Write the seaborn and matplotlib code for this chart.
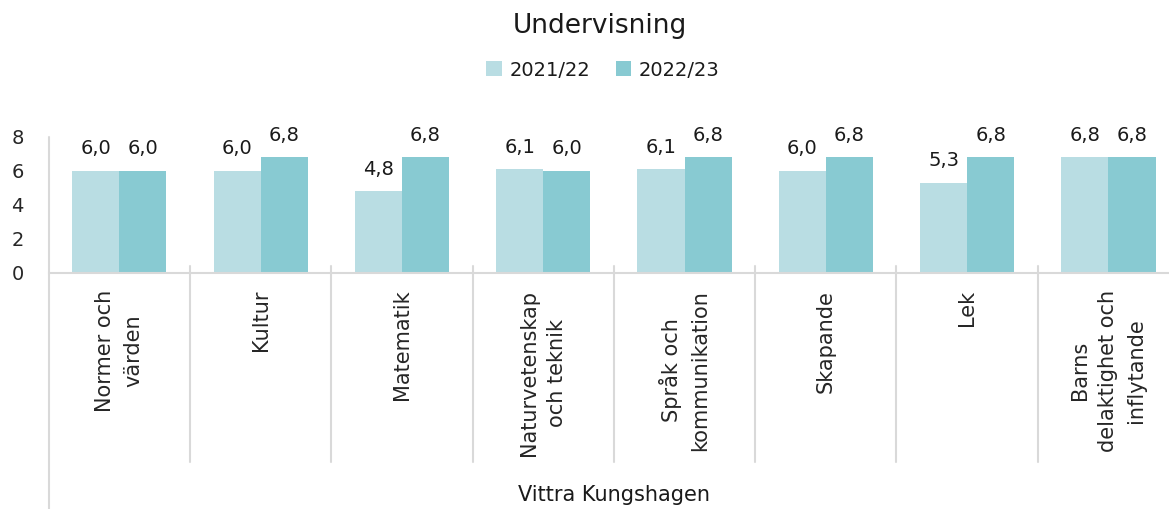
import numpy as np
import pandas as pd
import matplotlib
matplotlib.use('Agg')
import matplotlib.pyplot as plt
from matplotlib.patches import Patch
import seaborn as sns

# data
categories = ['Normer och\nvärden', 'Kultur', 'Matematik', 'Naturvetenskap\noch teknik',
              'Språk och\nkommunikation', 'Skapande', 'Lek', 'Barns\ndelaktighet och\ninflytande']
years = ['2021/22', '2022/23']
values_2122 = [6.0, 6.0, 4.8, 6.1, 6.1, 6.0, 5.3, 6.8]
values_2223 = [6.0, 6.8, 6.8, 6.0, 6.8, 6.8, 6.8, 6.8]
yticks = [0, 2, 4, 6, 8]
group_label = 'Vittra Kungshagen'
title = 'Undervisning'

colors = ['#B9DDE3', '#88CAD2']
grey = '#D9D9D9'

sns.set_style('white')
plt.rcParams['font.family'] = ['DejaVu Sans']
plt.rcParams['text.color'] = '#1a1a1a'

df = pd.DataFrame({
    'kategori': categories * 2,
    'år': [years[0]] * len(categories) + [years[1]] * len(categories),
    'värde': values_2122 + values_2223,
})

W, H = 1169, 509
fig = plt.figure(figsize=(W / 100, H / 100), dpi=100)
x0, x1 = 48.7, 48.7 + 8 * 141.3
y0, y8 = 273, 137
ax = fig.add_axes([x0 / W, 1 - y0 / H, (x1 - x0) / W, (y0 - y8) / H])

sns.barplot(data=df, x='kategori', y='värde', hue='år', palette=colors,
            width=0.667, saturation=1, ax=ax, legend=False, linewidth=0)

for cont in ax.containers:
    labs = [f'{b.get_height():.1f}'.replace('.', ',') for b in cont]
    ax.bar_label(cont, labels=labs, padding=9, fontsize=14)

ax.set_xlim(-0.5, len(categories) - 0.5)
ax.set_ylim(0, 8)
ax.set_yticks(yticks)
ax.set_xlabel('')
ax.set_ylabel('')
ax.tick_params(axis='y', direction='inout', length=10, width=1.5, color=grey,
               labelsize=14, pad=13)
ax.tick_params(axis='x', length=0, labelsize=15, pad=12)
ax.set_xticks(range(len(categories)))
ax.set_xticklabels(categories, rotation=90, multialignment='center', linespacing=1.5)

for s in ['top', 'right', 'left']:
    ax.spines[s].set_visible(False)
ax.spines['bottom'].set_color(grey)
ax.spines['bottom'].set_linewidth(1.5)

h = y0 - y8
# left axis line running down past the group label
ax.axvline(-0.5, ymin=-(H - y0) / h, ymax=1, color=grey, lw=1.5, clip_on=False)
# separators between categories
for k in range(1, len(categories)):
    ax.axvline(k - 0.5, ymin=-(462 - y0) / h, ymax=7 / h, color=grey, lw=1.5, clip_on=False)

fig.text((x0 + x1) / 2 / W, 1 - 495 / H, group_label, ha='center', va='center', fontsize=15)
fig.text(600 / W, 1 - 26 / H, title, ha='center', va='center', fontsize=19)

handles = [Patch(facecolor=c, edgecolor='none') for c in colors]
fig.legend(handles, years, loc='center', bbox_to_anchor=(603 / W, 1 - 70 / H), ncol=2,
           frameon=False, fontsize=14, handlelength=0.8, handleheight=0.8,
           handletextpad=0.4, columnspacing=1.3)

fig.savefig('out.png', dpi=100)
